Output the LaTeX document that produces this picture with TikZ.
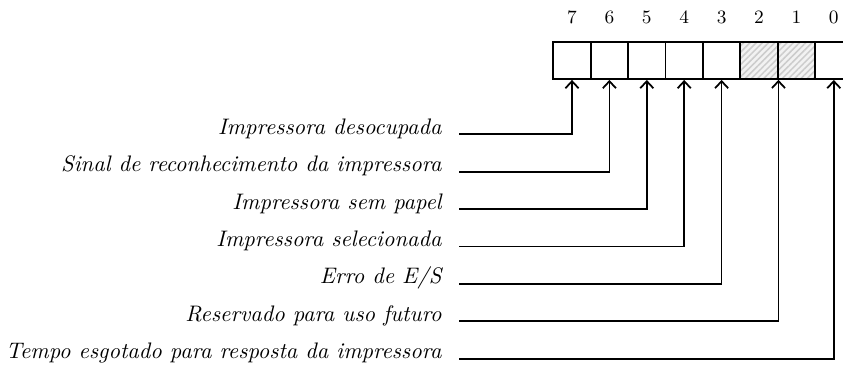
\documentclass[tikz,border=0pt]{standalone}
\usetikzlibrary{arrows.meta,patterns.meta}
\begin{document}
\begin{tikzpicture}[x=0.016043cm,y=-0.016043cm,
  cell/.style={draw,line width=0.8pt,minimum size=0.6cm,inner sep=0pt},
  resv/.style={cell,pattern={Lines[angle=45,distance=2pt,line width=0.7pt]},pattern color=gray!40},
  bitnum/.style={font=\fontsize{8.6}{10}\selectfont,anchor=base,inner sep=0pt},
  lbl/.style={font=\fontsize{10.25}{12}\selectfont\itshape,anchor=base east,inner sep=0pt},
  conn/.style={line width=0.8pt,-{Straight Barb[length=3.2pt,width=6pt]}}]
\useasboundingbox (0,0) rectangle (843,365);
% reserved background
\fill[gray!10] (740.3,41.65) rectangle (815.1,79.05);
% cells
\node[cell] (c7) at (572.0,60.35) {};
\node[cell] (c6) at (609.4,60.35) {};
\node[cell] (c5) at (646.8,60.35) {};
\node[cell] (c4) at (684.2,60.35) {};
\node[cell] (c3) at (721.6,60.35) {};
\node[resv] (c2) at (759.0,60.35) {};
\node[resv] (c1) at (796.4,60.35) {};
\node[cell] (c0) at (833.8,60.35) {};
% bit numbers
\node[bitnum] (n7) at (572.0,24) {7};
\node[bitnum] (n6) at (609.4,24) {6};
\node[bitnum] (n5) at (646.8,24) {5};
\node[bitnum] (n4) at (684.2,24) {4};
\node[bitnum] (n3) at (721.6,24) {3};
\node[bitnum] (n2) at (759.0,24) {2};
\node[bitnum] (n1) at (796.4,24) {1};
\node[bitnum] (n0) at (833.8,24) {0};
% labels
\node[lbl] (l7) at (442,134.3) {Impressora desocupada};
\node[lbl] (l6) at (442,171.7) {Sinal de reconhecimento da impressora};
\node[lbl] (l5) at (442,209.1) {Impressora sem papel};
\node[lbl] (l4) at (442,246.5) {Impressora selecionada};
\node[lbl] (l3) at (442,283.9) {Erro de E/S};
\node[lbl] (l2) at (442,321.3) {Reservado para uso futuro};
\node[lbl] (l0) at (442,358.7) {Tempo esgotado para resposta da impressora};
% line starts
\coordinate (s7) at (459.3,134.3);
\coordinate (s6) at (459.3,171.7);
\coordinate (s5) at (459.3,209.1);
\coordinate (s4) at (459.3,246.5);
\coordinate (s3) at (459.3,283.9);
\coordinate (s2) at (459.3,321.3);
\coordinate (s0) at (459.3,358.7);
% connectors
\draw[conn] (s7) -| (c7.south);
\draw[conn] (s6) -| (c6.south);
\draw[conn] (s5) -| (c5.south);
\draw[conn] (s4) -| (c4.south);
\draw[conn] (s3) -| (c3.south);
\draw[conn] (s2) -| (c2.south east);
\draw[conn] (s0) -| (c0.south);
\end{tikzpicture}
\end{document}
